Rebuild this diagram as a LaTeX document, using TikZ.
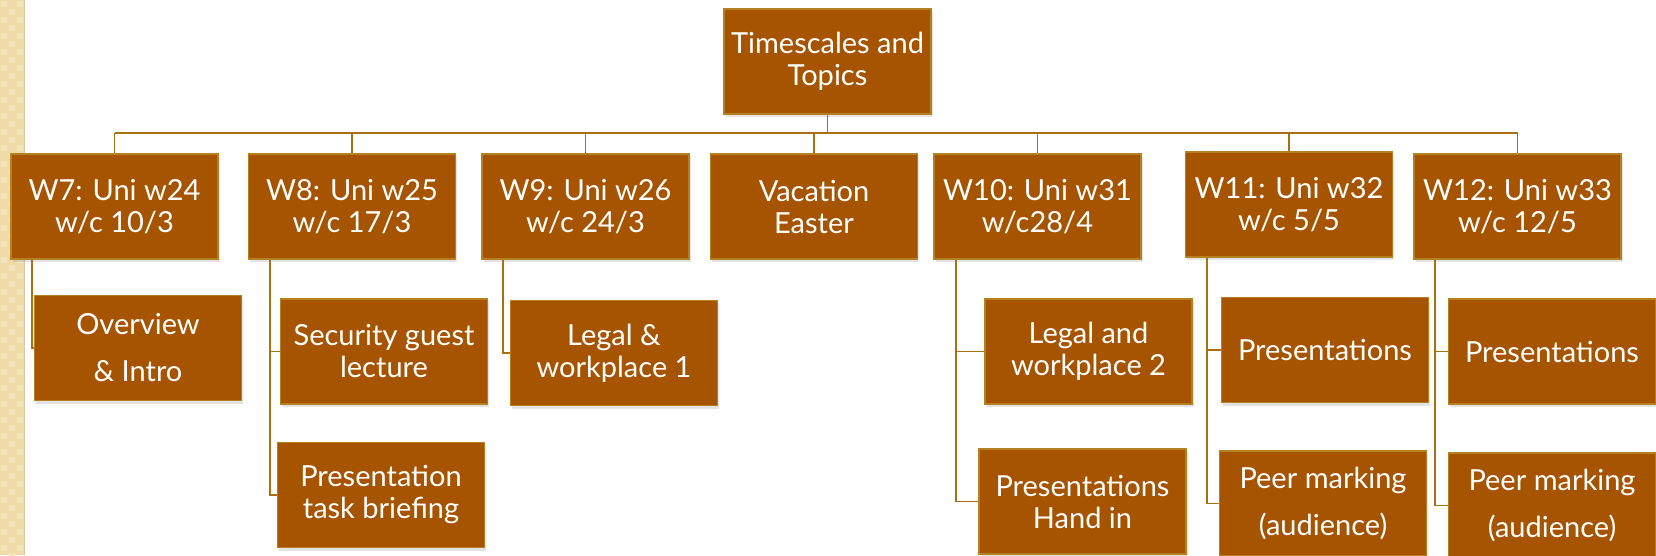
\documentclass[tikz,border=0pt]{standalone}
\usepackage{fontspec}
\setmainfont{Lato}
\usetikzlibrary{shadows,calc}
\definecolor{boxfill}{HTML}{A65400}
\definecolor{boxedge}{HTML}{B5801F}
\definecolor{linec}{HTML}{A8700F}
\definecolor{stripe}{HTML}{EEDBA8}
\definecolor{stripel}{HTML}{F3E4BC}
\definecolor{stripeedge}{HTML}{D6C8A2}
\pgfdeclarelayer{bg}
\pgfsetlayers{bg,main}
\begin{document}
\begin{tikzpicture}[x=1pt,y=-1pt,
  box/.style={draw=boxedge, line width=1.5pt, fill=boxfill, text=white,
    minimum width=207pt, minimum height=105pt, inner sep=0pt, align=center,
    font=\fontsize{29}{32}\selectfont,
    drop shadow={opacity=0.22, shadow xshift=1.5pt, shadow yshift=-3pt}},
  conn/.style={draw=linec, line width=1.6pt}]
\useasboundingbox (0,0) rectangle (1656,555);
\clip (0,0) rectangle (1656,555);
% left decorative stripe
\fill[stripe] (0,0) rectangle (25,555);
\foreach \r in {0,...,69}{\foreach \c in {0,1,2}{
  \pgfmathtruncatemacro\m{mod(\r+\c,2)}
  \ifnum\m=0 \fill[stripel] (\c*8+1,\r*8+1) rectangle ++(6,6); \fi}}
\draw[stripeedge, line width=1.2pt] (24.5,0) -- (24.5,555);
% nodes
\node[box] (root) at (827.5,61.5) {Timescales and\\Topics};
\node[box] (w7) at (114.5,206.5) {W7: Uni w24\\w/c 10/3};
\node[box] (w8) at (352,206.5) {W8: Uni w25\\w/c 17/3};
\node[box] (w9) at (585.5,206.5) {W9: Uni w26\\w/c 24/3};
\node[box] (vac) at (814,206.5) {Vacation\\Easter};
\node[box] (w10) at (1037.5,206.5) {W10: Uni w31\\w/c28/4};
\node[box] (w11) at (1289,204.5) {W11: Uni w32\\w/c 5/5};
\node[box] (w12) at (1517.5,206.5) {W12: Uni w33\\w/c 12/5};
\node[box] (ov) at (138,348) {Overview\\[15pt]\& Intro};
\node[box] (sec) at (384,351.5) {Security guest\\lecture};
\node[box] (ptb) at (381,495) {Presentation\\task briefing};
\node[box] (leg1) at (614,353) {Legal \&\\workplace 1};
\node[box] (leg2) at (1088.5,351.5) {Legal and\\workplace 2};
\node[box] (phi) at (1082.5,501.5) {Presentations\\Hand in};
\node[box] (p11) at (1325,350) {Presentations};
\node[box] (pm11) at (1323,503.5) {Peer marking\\[15pt](audience)};
\node[box] (p12) at (1552,351.5) {Presentations};
\node[box] (pm12) at (1552,505.5) {Peer marking\\[15pt](audience)};
\coordinate (bus) at (0,133);
\begin{pgfonlayer}{bg}
  \draw[conn] (root.south) -- (root.south |- bus);
  \draw[conn] (w7.north |- bus) -- (w12.north |- bus);
  \foreach \n in {w7,w8,w9,vac,w10,w11,w12}
    \draw[conn] (\n.north |- bus) -- (\n.north);
  \draw[conn] ($(w7.south west)+(21.5,0)$) |- (ov.west);
  \draw[conn] ($(w8.south west)+(22,0)$) |- (sec.west);
  \draw[conn] ($(w8.south west)+(22,0)$) |- (ptb.west);
  \draw[conn] ($(w9.south west)+(22,0)$) |- (leg1.west);
  \draw[conn] ($(w10.south west)+(22.5,0)$) |- (leg2.west);
  \draw[conn] ($(w10.south west)+(22.5,0)$) |- (phi.west);
  \draw[conn] ($(w11.south west)+(22,0)$) |- (p11.west);
  \draw[conn] ($(w11.south west)+(22,0)$) |- (pm11.west);
  \draw[conn] ($(w12.south west)+(22,0)$) |- (p12.west);
  \draw[conn] ($(w12.south west)+(22,0)$) |- (pm12.west);
\end{pgfonlayer}
\end{tikzpicture}
\end{document}
